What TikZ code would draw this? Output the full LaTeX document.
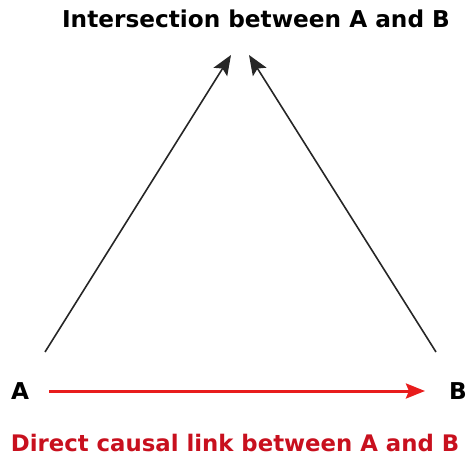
\documentclass[tikz,border=0pt]{standalone}
\usepackage{fontspec}
\setmainfont{DejaVu Sans}
\usetikzlibrary{arrows.meta}
\definecolor{linkred}{RGB}{232,28,28}
\definecolor{textred}{RGB}{200,16,30}
\begin{document}
\begin{tikzpicture}[x=1pt,y=-1pt,
  lbl/.style={font=\bfseries\fontsize{23.2}{28}\selectfont, inner sep=0pt, anchor=center},
  causal/.style={-{Stealth[length=20pt,width=16pt,inset=4pt]}, line width=1.6pt, draw=black!85},
  direct/.style={-{Stealth[length=19pt,width=15pt,inset=3pt]}, line width=3pt, draw=linkred}]
\useasboundingbox (0,0) rectangle (474,462);
\node[lbl] (title) at (256,19) {Intersection between A and B};
\node[lbl] (A) at (20,391) {A};
\node[lbl] (B) at (458,391) {B};
\node[lbl, text=textred, font=\bfseries\fontsize{22.8}{28}\selectfont] (direct) at (235,443) {Direct causal link between A and B};
\coordinate (aStart) at (45,352);
\coordinate (bStart) at (436,352);
\coordinate (aEnd) at (231,55);
\coordinate (bEnd) at (249,55);
\draw[causal] (aStart) -- (aEnd);
\draw[causal] (bStart) -- (bEnd);
\draw[direct] ([xshift=20pt]A.east) -- ([xshift=-24pt]B.west);
\end{tikzpicture}
\end{document}
